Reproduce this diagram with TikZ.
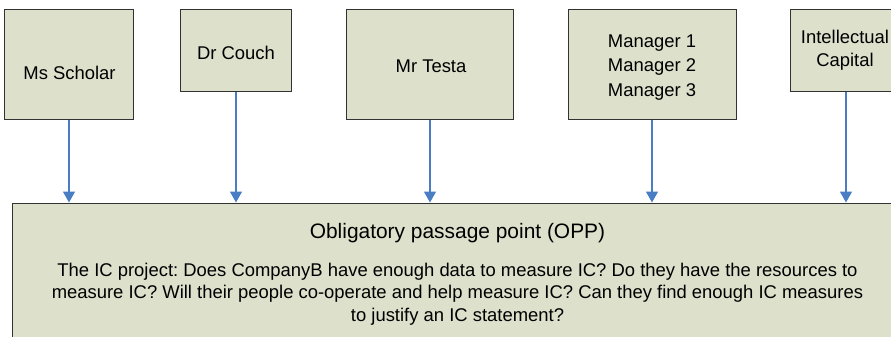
\documentclass[tikz,border=0pt]{standalone}
\usepackage{fontspec}
\setmainfont{Liberation Sans}
\usetikzlibrary{arrows.meta}
\frenchspacing
\definecolor{boxfill}{RGB}{221,224,203}
\definecolor{boxline}{RGB}{50,50,50}
\definecolor{arrblue}{RGB}{74,126,196}
\begin{document}
\begin{tikzpicture}[x=1bp,y=-1bp,
  actor/.style={draw=boxline,fill=boxfill,line width=1bp,inner sep=0pt},
  lbl/.style={inner sep=0pt,align=center,font=\fontsize{18.5}{24}\selectfont},
  arr/.style={draw=arrblue,line width=1.4bp,-{Triangle[width=12bp,length=11bp]}}]
\useasboundingbox (0,0) rectangle (891,336);
\clip (0,0) rectangle (891,336);
% top boxes
\node[actor,minimum width=129bp,minimum height=110bp] (ms) at (69,64) {};
\node[actor,minimum width=111bp,minimum height=82bp] (dc) at (236,50) {};
\node[actor,minimum width=167bp,minimum height=110bp] (mt) at (430,64) {};
\node[actor,minimum width=168bp,minimum height=110bp] (mg) at (652,64) {};
\node[actor,minimum width=112bp,minimum height=82bp] (ic) at (846,50) {};
% OPP box
\node[actor,minimum width=889bp,minimum height=150bp] (opp) at (457.5,278) {};
% labels (anchor base = baseline of last line)
\node[lbl,anchor=base] (tms) at (69.5,79) {Ms Scholar};
\node[lbl,anchor=base] (tdc) at (236,59) {Dr Couch};
\node[lbl,anchor=base] (tmt) at (431,72) {Mr Testa};
\node[lbl,anchor=base,font=\fontsize{18.5}{24.5}\selectfont] (tmg) at (652,96) {Manager 1\\Manager 2\\Manager 3};
\node[lbl,anchor=base,font=\fontsize{18.5}{23}\selectfont] (tic) at (845,66) {Intellectual\\Capital};
\node[lbl,anchor=base,font=\fontsize{21}{25}\selectfont] (topp) at (457.5,238) {Obligatory passage point (OPP)};
\node[lbl,anchor=base,font=\fontsize{18.5}{22.5}\selectfont] (tbody) at (457.5,321) {The IC project: Does CompanyB have enough data to measure IC? Do they have the resources to\\measure IC? Will their people co-operate and help measure IC? Can they find enough IC measures\\to justify an IC statement?};
% arrows
\draw[arr] (ms.south) -- (ms.south |- opp.north);
\draw[arr] (dc.south) -- (dc.south |- opp.north);
\draw[arr] (mt.south) -- (mt.south |- opp.north);
\draw[arr] (mg.south) -- (mg.south |- opp.north);
\draw[arr] (ic.south) -- (ic.south |- opp.north);
\end{tikzpicture}
\end{document}
